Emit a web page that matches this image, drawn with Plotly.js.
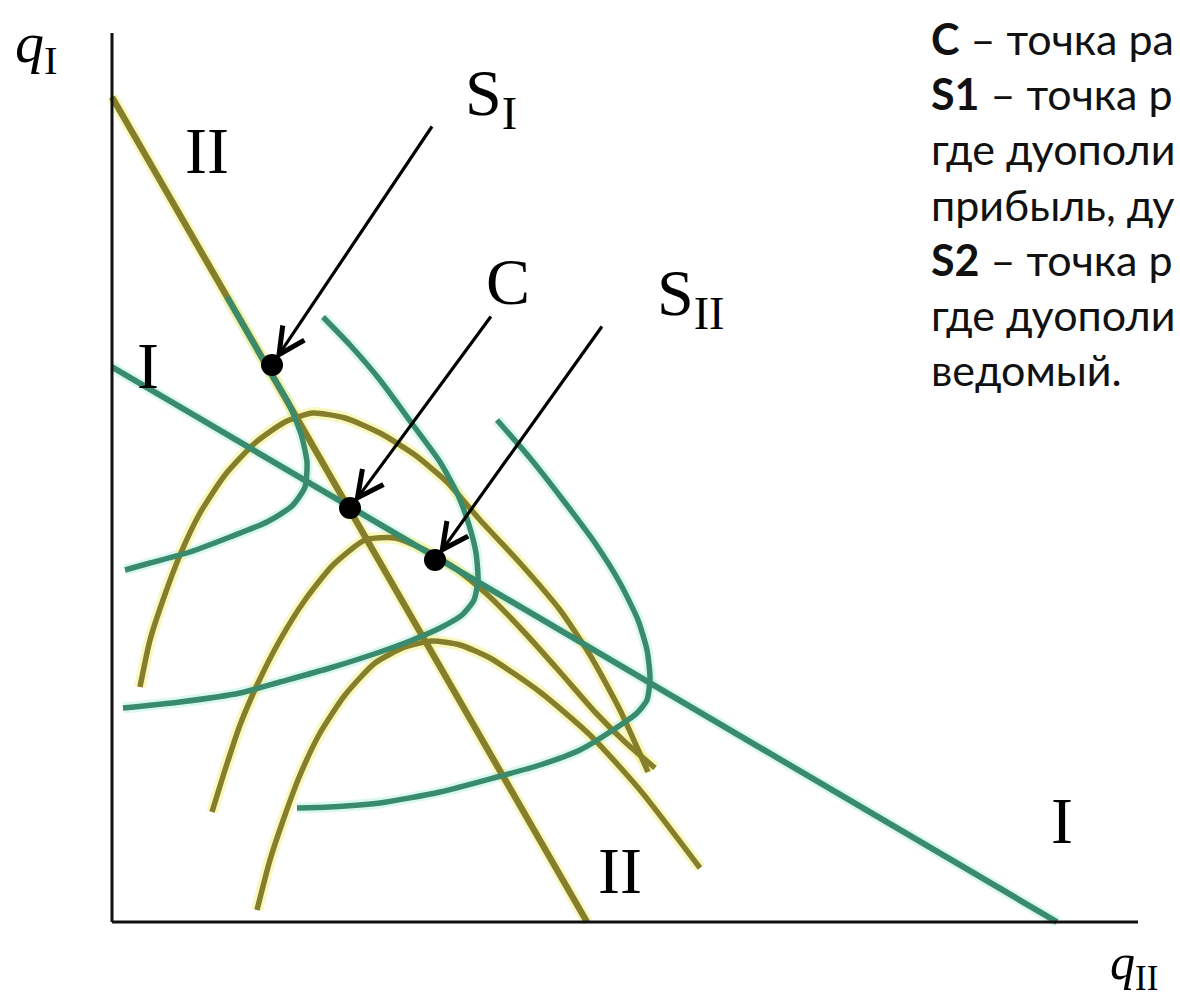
<!DOCTYPE html>
<html>
<head>
<meta charset="utf-8">
<script src="https://cdn.plot.ly/plotly-3.0.1.min.js"></script>
<style>html,body{margin:0;padding:0;overflow:hidden;background:#fff}#chart{width:1180px;height:1005px}</style>
</head>
<body>
<div id="chart"></div>
<script>
// ---- Data (q_II on the horizontal axis, q_I on the vertical axis) ----
const axisQII = [0, 102.6];
const axisQI = [0, 88.9];

// Reaction curve of firm I (line I) and firm II (line II)
const lineIx = [0, 94.5];
const lineIy = [55.5, 0];
const lineIIx = [0, 47.5];
const lineIIy = [82.5, 0];

// Isoprofit curves of firm I (teal)
const tealAx = [11.5, 13.8, 16.0, 17.6, 18.9, 19.5, 19.3, 18.0, 15.5, 11.8, 7.8, 3.8, 1.3];
const tealAy = [62.5, 58.5, 54.7, 52.0, 48.8, 46.0, 43.5, 41.6, 40.0, 38.5, 37.0, 35.9, 35.2];
const tealBx = [21.1, 23.8, 26.8, 30.1, 32.8, 34.6, 35.7, 36.4, 36.6, 36.2, 35.0, 32.8, 29.8, 26.8, 21.8, 16.8, 12.8, 6.8, 1.1];
const tealBy = [60.5, 57.7, 54.2, 49.7, 46.0, 42.7, 39.7, 36.9, 34.2, 32.2, 30.7, 29.4, 28.1, 27.0, 25.4, 24.0, 22.9, 22.0, 21.4];
const tealCx = [38.5, 41.8, 45.1, 48.3, 50.8, 52.6, 53.5, 53.8, 53.5, 52.5, 50.1, 46.8, 42.8, 38.5, 32.8, 26.8, 21.8, 18.5];
const tealCy = [50.2, 46.4, 42.2, 37.9, 33.9, 30.2, 27.2, 24.4, 22.2, 20.9, 19.2, 17.2, 15.7, 14.5, 13.0, 11.9, 11.5, 11.4];

// Isoprofit curves of firm II (olive)
const olive1x = [2.8, 3.8, 5.1, 6.8, 8.8, 11.3, 14.3, 17.3, 20.1, 23.3, 26.8, 30.3, 33.5, 36.8, 40.8, 44.8, 47.8, 50.8, 53.6];
const olive1y = [23.5, 28.2, 32.2, 36.7, 40.9, 44.7, 47.9, 50.0, 50.9, 50.4, 48.9, 46.7, 44.0, 40.2, 35.9, 31.2, 26.7, 21.2, 15.0];
const olive2x = [10.0, 11.3, 12.8, 14.6, 16.8, 19.3, 22.1, 25.3, 28.3, 31.3, 34.3, 37.8, 41.3, 44.8, 48.3, 51.3, 54.3];
const olive2y = [11.0, 15.2, 19.7, 23.9, 28.2, 32.2, 35.7, 38.2, 38.4, 37.2, 35.4, 32.5, 28.9, 25.0, 21.0, 18.0, 15.4];
const olive3x = [14.5, 15.8, 17.3, 18.8, 20.8, 23.3, 26.3, 29.3, 32.0, 34.8, 37.8, 42.8, 47.8, 52.8, 58.8];
const olive3y = [1.2, 6.2, 10.7, 14.7, 18.9, 22.7, 25.9, 27.5, 28.1, 27.7, 26.4, 23.0, 18.7, 13.2, 5.4];

// Equilibrium points: S_I, C, S_II
const pointX = [16.0, 23.8, 32.3];
const pointY = [55.7, 41.4, 36.2];
// Arrow tails pointing to the equilibria
const arrowTailX = [32.1, 38.0, 49.1];
const arrowTailY = [79.7, 60.7, 59.7];

// Labels on the plot
const labelText = ['II', 'I', 'I', 'II', 'S<sub>I</sub>', 'C', 'S<sub>II</sub>'];
const labelX = [9.5, 3.6, 95.0, 50.8, 35.1, 39.6, 54.3];
const labelY = [77.2, 55.7, 10.2, 5.2, 82.5, 64.1, 62.5];
const labelAnchor = ['center', 'center', 'center', 'center', 'left', 'center', 'left'];

// Side legend text
const noteLines = [
  '<b>C</b> – точка ра',
  '<b>S1</b> – точка р',
  'где дуополи',
  'прибыль, ду',
  '<b>S2</b> – точка р',
  'где дуополи',
  'ведомый.'
];

// ---- Styling ----
const TEAL = '#3a8b6d';
const TEAL_HALO = 'rgba(150,235,215,0.35)';
const OLIVE = '#857f2c';
const OLIVE_HALO = 'rgba(245,240,120,0.45)';

function curve(x, y, color, width) {
  return {x: x, y: y, type: 'scatter', mode: 'lines', hoverinfo: 'skip',
          line: {color: color, width: width, shape: 'spline', smoothing: 0.6}};
}

const traces = [];
// halos
[[tealAx, tealAy], [tealBx, tealBy], [tealCx, tealCy], [lineIx, lineIy]].forEach(c => traces.push(curve(c[0], c[1], TEAL_HALO, 11)));
[[olive1x, olive1y], [olive2x, olive2y], [olive3x, olive3y], [lineIIx, lineIIy]].forEach(c => traces.push(curve(c[0], c[1], OLIVE_HALO, 12)));
// olive curves
[[olive1x, olive1y], [olive2x, olive2y], [olive3x, olive3y]].forEach(c => traces.push(curve(c[0], c[1], OLIVE, 5.5)));
traces.push(curve(lineIIx, lineIIy, OLIVE, 6.5));
// teal curves
[[tealAx, tealAy], [tealBx, tealBy], [tealCx, tealCy]].forEach(c => traces.push(curve(c[0], c[1], TEAL, 5.5)));
traces.push(curve(lineIx, lineIy, TEAL, 6));
// axes
traces.push({x: [axisQII[0], axisQII[1]], y: [0, 0], type: 'scatter', mode: 'lines', hoverinfo: 'skip', line: {color: '#111', width: 3}});
traces.push({x: [0, 0], y: [axisQI[0], axisQI[1]], type: 'scatter', mode: 'lines', hoverinfo: 'skip', line: {color: '#111', width: 3}});
// points
traces.push({x: pointX, y: pointY, type: 'scatter', mode: 'markers', hoverinfo: 'skip',
             marker: {color: '#000', size: 22}});

const annotations = [];
for (let i = 0; i < pointX.length; i++) {
  annotations.push({x: pointX[i], y: pointY[i], xref: 'x', yref: 'y',
    ax: arrowTailX[i], ay: arrowTailY[i], axref: 'x', ayref: 'y', text: '',
    showarrow: true, arrowhead: 5, arrowsize: 1.6, arrowwidth: 3.2, arrowcolor: '#000', standoff: 7});
}
for (let i = 0; i < labelText.length; i++) {
  annotations.push({x: labelX[i], y: labelY[i], xref: 'x', yref: 'y', text: labelText[i],
    showarrow: false, xanchor: labelAnchor[i], yanchor: 'middle',
    font: {family: 'Liberation Serif, DejaVu Serif, serif', size: 66, color: '#000'}});
}
// axis titles
annotations.push({x: -9.9, y: 87.6, xref: 'x', yref: 'y', text: '<i>q</i><sub>I</sub>', showarrow: false,
  xanchor: 'left', yanchor: 'middle', font: {family: 'Liberation Serif, serif', size: 58, color: '#000'}});
annotations.push({x: 99.6, y: -4.4, xref: 'x', yref: 'y', text: '<i>q</i><sub>II</sub>', showarrow: false,
  xanchor: 'left', yanchor: 'middle', font: {family: 'Liberation Serif, serif', size: 50, color: '#000'}});
// side notes
const noteTop = 0.962, noteStep = 0.055;
noteLines.forEach((t, i) => annotations.push({x: 0.787, y: noteTop - i * noteStep, xref: 'paper', yref: 'paper',
  text: t, showarrow: false, xanchor: 'left', yanchor: 'middle', align: 'left',
  font: {family: 'Lato, Noto Sans, sans-serif', size: 43, color: '#111'}}));

const layout = {
  width: 1180, height: 1005,
  margin: {l: 0, r: 0, t: 0, b: 0},
  paper_bgcolor: '#fff', plot_bgcolor: '#fff',
  showlegend: false,
  xaxis: {range: [-11.2, 106.8], visible: false, showgrid: false, zeroline: false, fixedrange: true},
  yaxis: {range: [-8.3, 92.2], visible: false, showgrid: false, zeroline: false, fixedrange: true},
  annotations: annotations
};

Plotly.newPlot('chart', traces, layout, {staticPlot: true, displayModeBar: false});
</script>
</body>
</html>
